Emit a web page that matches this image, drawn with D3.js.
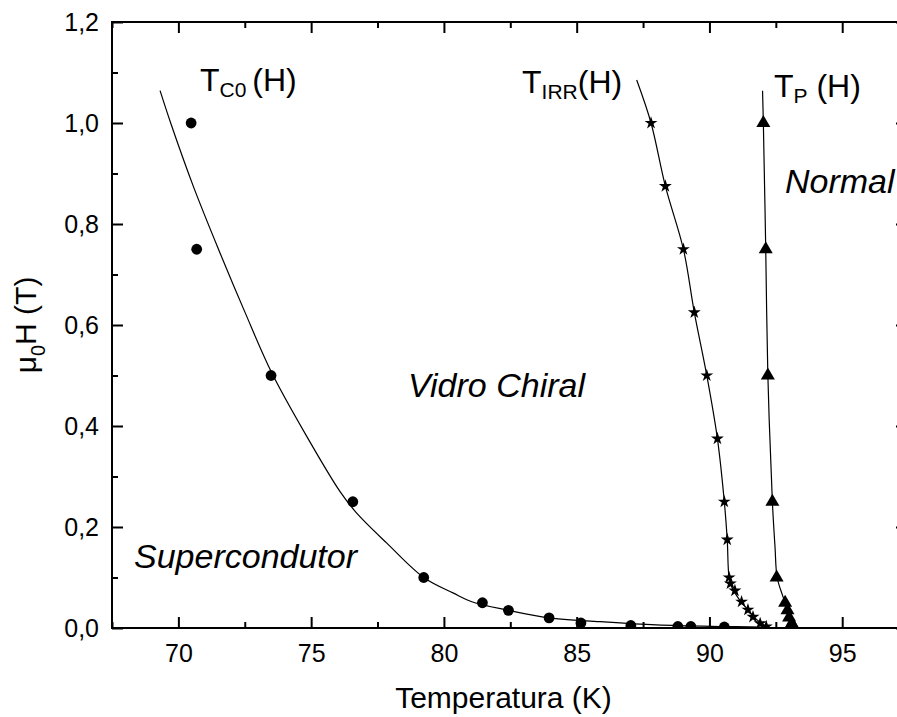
<!DOCTYPE html>
<html><head><meta charset="utf-8">
<script src="https://cdn.jsdelivr.net/npm/d3@7"></script>
<style>html,body{margin:0;padding:0;background:#fff;overflow:hidden}svg{display:block}</style>
</head><body>
<svg id="c" width="897" height="717"></svg>
<script>
// ---- data ----
const xTicks = [70, 75, 80, 85, 90, 95];
const xMinorTicks = [67.5, 72.5, 77.5, 82.5, 87.5, 92.5, 97.5];
const yTicks = [0, 0.2, 0.4, 0.6, 0.8, 1.0, 1.2];
const yTickLabels = ["0,0", "0,2", "0,4", "0,6", "0,8", "1,0", "1,2"];
const yMinorTicks = [0.1, 0.3, 0.5, 0.7, 0.9, 1.1];
const xDomain = [67.5, 97.44];
const yDomain = [0, 1.2];

// T_C0(H) points (circles)
const tc0T = [70.48, 70.69, 73.49, 76.57, 79.24, 81.45, 82.43, 83.96, 85.16, 87.04, 88.81, 89.30, 90.56];
const tc0H = [1.0, 0.75, 0.5, 0.25, 0.1, 0.05, 0.035, 0.02, 0.01, 0.005, 0.003, 0.003, 0.002];
// T_C0 fit curve
const tc0FitT = [69.31, 69.71, 70.56, 71.51, 72.51, 73.52, 74.84, 76.09, 76.69, 77.85, 79.24, 80.36, 81.05, 82.43, 83.96, 85.88, 88.0, 90.4, 92.0];
const tc0FitH = [1.064, 1.0, 0.875, 0.75, 0.625, 0.505, 0.379, 0.27, 0.229, 0.168, 0.10, 0.069, 0.052, 0.035, 0.02, 0.0125, 0.006, 0.003, 0.002];

// T_IRR(H) points (stars)
const tirrT = [87.80, 88.34, 89.02, 89.43, 89.90, 90.30, 90.56, 90.67, 90.74, 90.79, 90.96, 91.21, 91.45, 91.64, 91.91, 92.14];
const tirrH = [1.0, 0.875, 0.75, 0.625, 0.5, 0.375, 0.25, 0.175, 0.1, 0.088, 0.074, 0.052, 0.036, 0.022, 0.009, 0.003];
const tirrFitT = [87.26, 87.80, 88.34, 89.02, 89.43, 89.90, 90.30, 90.56, 90.67, 90.74, 90.85, 91.10, 91.45, 91.75, 92.05, 92.30];
const tirrFitH = [1.085, 1.0, 0.875, 0.75, 0.625, 0.5, 0.375, 0.25, 0.175, 0.10, 0.08, 0.058, 0.036, 0.018, 0.006, 0.0];

// T_P(H) points (triangles)
const tpT = [92.03, 92.12, 92.20, 92.37, 92.53, 92.85, 92.94, 93.00, 93.10, 93.16];
const tpH = [1.0, 0.75, 0.5, 0.25, 0.1, 0.05, 0.035, 0.021, 0.009, 0.003];
const tpFitT = [92.0, 92.03, 92.12, 92.20, 92.37, 92.47, 92.55, 92.75, 92.88, 93.0, 93.12, 93.25];
const tpFitH = [1.064, 1.0, 0.75, 0.5, 0.25, 0.16, 0.10, 0.065, 0.045, 0.022, 0.008, 0.0];

// ---- layout ----
const L = 112, R = 907, T = 22, B = 628;
const FONT = "'Liberation Sans', Arial, Helvetica, sans-serif";

const svg = d3.select("#c");
const x = d3.scaleLinear().domain(xDomain).range([L, R]);
const y = d3.scaleLinear().domain(yDomain).range([B, T]);

svg.append("defs").append("clipPath").attr("id", "plotclip")
  .append("rect").attr("x", L).attr("y", T).attr("width", R - L).attr("height", B - T - 1);

const plot = svg.append("g").attr("clip-path", "url(#plotclip)");

const line = d3.line().x(d => x(d[0])).y(d => y(d[1])).curve(d3.curveCatmullRom.alpha(0.5));
function pairs(a, b) { return a.map((v, i) => [v, b[i]]); }

[[tc0FitT, tc0FitH], [tirrFitT, tirrFitH], [tpFitT, tpFitH]].forEach(([a, b]) => {
  plot.append("path").datum(pairs(a, b)).attr("d", line)
    .attr("fill", "none").attr("stroke", "#000").attr("stroke-width", 1.2);
});

plot.selectAll("circle.tc0").data(pairs(tc0T, tc0H)).join("circle")
  .attr("class", "tc0").attr("cx", d => x(d[0])).attr("cy", d => y(d[1])).attr("r", 5.4).attr("fill", "#000");

const star = d3.symbol().type(d3.symbolStar).size(52);
plot.selectAll("path.tirr").data(pairs(tirrT, tirrH)).join("path")
  .attr("class", "tirr").attr("d", star).attr("transform", d => `translate(${x(d[0])},${y(d[1])})`).attr("fill", "#000");

const tri = d3.symbol().type(d3.symbolTriangle).size(85);
plot.selectAll("path.tp").data(pairs(tpT, tpH)).join("path")
  .attr("class", "tp").attr("d", tri).attr("transform", d => `translate(${x(d[0])},${y(d[1])})`).attr("fill", "#000");

// ---- axes ----
function styleAxis(g) {
  g.select(".domain").remove();
  g.selectAll(".tick line").attr("stroke", "#000").attr("stroke-width", 2);
  g.selectAll(".tick text").attr("fill", "#000").style("font-family", FONT).style("font-size", "25px");
}
svg.append("g").attr("transform", `translate(0,${B})`)
  .call(d3.axisBottom(x).tickValues(xTicks).tickSize(-11).tickPadding(16).tickFormat(d3.format("d")))
  .call(styleAxis);
svg.append("g").attr("transform", `translate(0,${B})`)
  .call(d3.axisBottom(x).tickValues(xMinorTicks).tickSize(-6).tickFormat(""))
  .call(styleAxis);
svg.append("g").attr("transform", `translate(0,${T})`)
  .call(d3.axisTop(x).tickValues(xTicks).tickSize(-11).tickFormat(""))
  .call(styleAxis);
svg.append("g").attr("transform", `translate(0,${T})`)
  .call(d3.axisTop(x).tickValues(xMinorTicks).tickSize(-6).tickFormat(""))
  .call(styleAxis);
svg.append("g").attr("transform", `translate(${L},0)`)
  .call(d3.axisLeft(y).tickValues(yTicks).tickSize(-11).tickPadding(13).tickFormat((d, i) => yTickLabels[i]))
  .call(styleAxis);
svg.append("g").attr("transform", `translate(${L},0)`)
  .call(d3.axisLeft(y).tickValues(yMinorTicks).tickSize(-6).tickFormat(""))
  .call(styleAxis);
svg.append("g").attr("transform", `translate(${R},0)`)
  .call(d3.axisRight(y).tickValues(yTicks).tickSize(-11).tickFormat(""))
  .call(styleAxis);
svg.append("g").attr("transform", `translate(${R},0)`)
  .call(d3.axisRight(y).tickValues(yMinorTicks).tickSize(-6).tickFormat(""))
  .call(styleAxis);

svg.append("rect").attr("x", L).attr("y", T).attr("width", R - L).attr("height", B - T)
  .attr("fill", "none").attr("stroke", "#000").attr("stroke-width", 2);

// ---- titles ----
svg.append("text").attr("x", (L + 895) / 2).attr("y", 708).attr("text-anchor", "middle")
  .style("font-family", FONT).style("font-size", "30px").text("Temperatura (K)");

const yt = svg.append("text").attr("transform", `translate(36,${(T + B) / 2}) rotate(-90)`)
  .attr("text-anchor", "middle").style("font-family", FONT).style("font-size", "30px");
yt.append("tspan").text("μ");
yt.append("tspan").attr("dy", 9).style("font-size", "20px").text("0");
yt.append("tspan").attr("dy", -9).text("H (T)");

// ---- annotations ----
function subLabel(xp, yp, main, sub, rest) {
  const t = svg.append("text").attr("x", xp).attr("y", yp).style("font-family", FONT).style("font-size", "32px");
  t.append("tspan").text(main);
  t.append("tspan").attr("dy", 6).style("font-size", "21px").text(sub);
  t.append("tspan").attr("dy", -6).text(rest);
}
subLabel(200, 91, "T", "C0 ", "(H)");
subLabel(522, 93, "T", "IRR", "(H)");
subLabel(774, 97, "T", "P", " (H)");

function italicLabel(xp, yp, s) {
  svg.append("text").attr("x", xp).attr("y", yp).style("font-family", FONT).style("font-size", "34px")
    .style("font-style", "italic").text(s);
}
italicLabel(408, 397, "Vidro Chiral");
italicLabel(134, 568, "Supercondutor");
italicLabel(785, 193, "Normal");
</script>
</body></html>
